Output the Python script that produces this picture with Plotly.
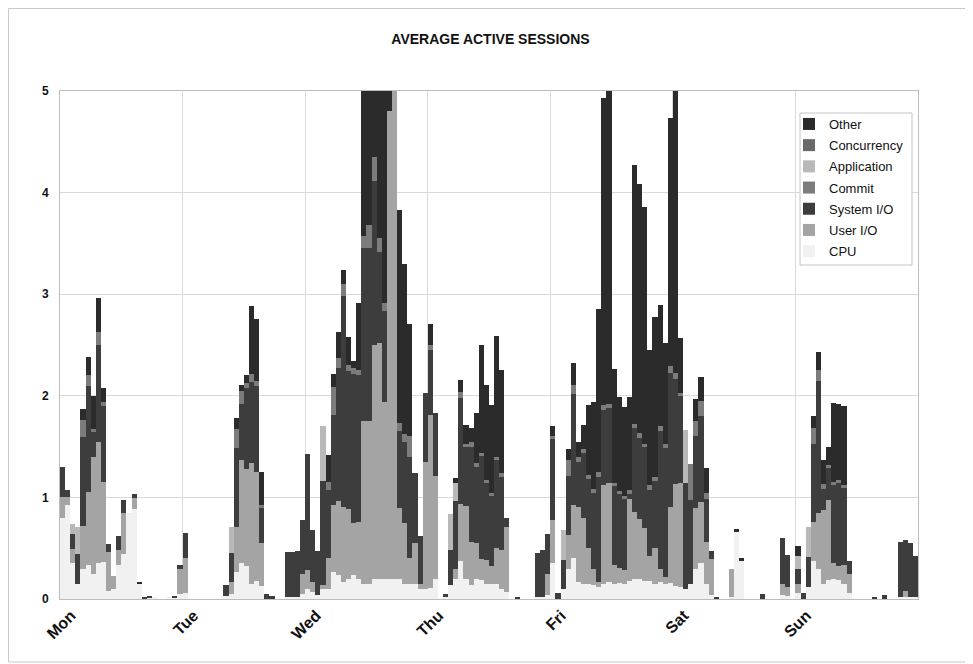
import plotly.graph_objects as go

# hourly buckets, Mon 00:00 .. Sun 23:00 (24 per day)
DAYS = ["Mon", "Tue", "Wed", "Thu", "Fri", "Sat", "Sun"]

CPU = [
    0.80, 0.93, 0.35, 0.15, 0.30, 0.33, 0.25, 0.35, 0.36, 0.08, 0.10, 0.33, 0.44, 0.85, 0.89, 0.15, 0, 0.01, 0.01, 0, 0, 0.01, 0.01, 0.05,
    0.06, 0, 0, 0, 0, 0, 0, 0, 0.03, 0.05, 0.27, 0.35, 0.32, 0.15, 0.18, 0.13, 0, 0, 0, 0, 0.02, 0.02, 0.02, 0.05,
    0.10, 0.07, 0.04, 0.10, 0.10, 0.27, 0.24, 0.17, 0.20, 0.24, 0.20, 0.15, 0.15, 0.20, 0.20, 0.20, 0.20, 0.20, 0.20, 0.15, 0.15, 0.15, 0.10, 0.10,
    0.11, 0.20, 0, 0.02, 0.14, 0.20, 0.37, 0.20, 0.14, 0.20, 0.19, 0.15, 0.15, 0.15, 0.10, 0.07, 0, 0, 0, 0, 0, 0.02, 0.02, 0.04,
    0.35, 0, 0.10, 0.30, 0.40, 0.17, 0.15, 0.15, 0.14, 0.12, 0.15, 0.17, 0.15, 0.16, 0.15, 0.18, 0.20, 0.20, 0.18, 0.18, 0.15, 0.17, 0.15, 0.16,
    0.13, 0.12, 0.10, 0.15, 0.30, 0.35, 0.15, 0.04, 0, 0, 0, 0.02, 0.66, 0.37, 0, 0, 0, 0, 0, 0, 0, 0.04, 0.03, 0,
    0.06, 0, 0.12, 0.37, 0.30, 0.15, 0.19, 0.20, 0.19, 0.15, 0.06, 0, 0, 0, 0, 0, 0, 0, 0, 0, 0.02, 0.02, 0.02, 0.02,
]

USER_IO = [
    0.20, 0.07, 0.14, 0, 0.42, 0.72, 1.15, 1.20, 0.79, 0.38, 0.13, 0.15, 0.41, 0, 0.10, 0, 0, 0, 0, 0, 0, 0, 0, 0.25,
    0.34, 0, 0, 0, 0, 0, 0, 0, 0, 0.12, 0.44, 1.02, 0.96, 1.19, 1.07, 0.42, 0, 0, 0, 0, 0, 0, 0, 0.20,
    0.19, 0.10, 0, 0.04, 0.30, 0.66, 0.72, 0.74, 0.69, 0.51, 0.56, 1.60, 1.60, 2.30, 2.32, 1.74, 4.60, 4.90, 0.70, 0.60, 0.25, 0.40, 0.05, 1.25,
    1.70, 1.01, 0, 0, 0, 0.10, 0.57, 0.72, 0.42, 0.35, 0.20, 0.23, 0.17, 0.35, 0.38, 0.64, 0, 0, 0, 0, 0, 0, 0, 0.21,
    0.43, 0, 0, 0.33, 0.53, 0.74, 0.65, 0.35, 0.16, 0.05, 0.97, 0.97, 0.18, 0.15, 0.14, 0.80, 0.66, 0.59, 0.52, 0.24, 0.35, 0.13, 0.07, 0.75,
    1.00, 1.02, 0, 0, 0.60, 0.60, 0.41, 0.35, 0, 0, 0, 0.28, 0, 0, 0, 0, 0, 0, 0, 0, 0, 0.11, 0.09, 0,
    0.09, 0, 0, 0.39, 0.55, 0.73, 0.78, 0.15, 0.13, 0.18, 0.19, 0, 0, 0, 0, 0, 0, 0, 0, 0, 0, 0.06, 0, 0,
]

SYSTEM_IO = [
    0.30, 0.07, 0.15, 0.29, 0.87, 1.05, 0.24, 0.95, 0.75, 0.08, 0, 0.14, 0.12, 0, 0.04, 0, 0.02, 0.02, 0, 0, 0, 0, 0.01, 0.03,
    0.25, 0, 0, 0, 0, 0, 0, 0, 0.11, 0.28, 0.78, 0.55, 0.80, 0.80, 0.85, 0.35, 0.05, 0.03, 0, 0, 0.44, 0.44, 0.45, 0.53,
    1.14, 0.51, 0.43, 1.02, 0.67, 0.88, 1.31, 2.07, 1.35, 1.46, 1.44, 1.70, 1.70, 1.61, 0.90, 0.89, 0, 0, 0.75, 0.80, 1.00, 0.69, 0.47, 0.68,
    0.64, 0.62, 0, 0.03, 0.34, 0.66, 1.04, 0.58, 0.94, 0.75, 1.02, 0.76, 0.69, 0.87, 0.72, 0.09, 0, 0.02, 0, 0, 0, 0.43, 0.46, 0.39,
    0.79, 0.06, 0.28, 0.58, 1.09, 0.44, 0.64, 0.68, 0.74, 1.03, 0.74, 0.74, 0.78, 0.72, 0.69, 0.05, 0.82, 0.79, 0.80, 0.65, 0.66, 1.35, 1.27, 1.31,
    1.04, 0.86, 1.04, 0.82, 0.70, 0.85, 0.42, 0.08, 0.02, 0, 0, 0, 0, 0, 0, 0, 0, 0.05, 0, 0, 0, 0.45, 0.31, 0,
    0.15, 0.06, 0.29, 0.77, 1.30, 0.20, 0.32, 0.77, 0.82, 0.76, 0.12, 0, 0, 0, 0, 0.02, 0, 0.04, 0, 0, 0.54, 0.50, 0.53, 0.40,
]

COMMIT = [
    0, 0, 0, 0, 0.17, 0.10, 0.03, 0.13, 0.04, 0, 0, 0, 0, 0, 0, 0, 0, 0, 0, 0, 0, 0, 0, 0,
    0, 0, 0, 0, 0, 0, 0, 0, 0, 0, 0.18, 0.13, 0.05, 0.07, 0.05, 0.03, 0, 0, 0, 0, 0, 0, 0, 0,
    0, 0, 0, 0, 0.08, 0.28, 0.10, 0.12, 0.06, 0.06, 0.05, 0.12, 0.23, 0.24, 0.13, 0.08, 0, 0, 0.08, 0.07, 0.20, 0, 0, 0,
    0.05, 0, 0, 0, 0, 0, 0.06, 0.03, 0.05, 0.04, 0.03, 0.03, 0.03, 0.03, 0.04, 0, 0, 0, 0, 0, 0, 0, 0, 0,
    0.03, 0, 0, 0.16, 0.09, 0.05, 0.04, 0.04, 0.04, 0.05, 0.05, 0.04, 0.03, 0.03, 0.03, 0.04, 0.04, 0.05, 0.03, 0.05, 0.04, 0.05, 0.04, 0.07,
    0.05, 0.03, 0, 0.36, 0.15, 0.15, 0.06, 0, 0, 0, 0, 0, 0, 0, 0, 0, 0, 0, 0, 0, 0, 0, 0, 0,
    0, 0, 0, 0.15, 0.10, 0.05, 0.03, 0.03, 0.03, 0.03, 0, 0, 0, 0, 0, 0, 0, 0, 0, 0, 0, 0, 0, 0,
]

APPLICATION = [
    0, 0, 0.10, 0.27, 0, 0, 0, 0, 0, 0, 0, 0, 0, 0, 0, 0, 0, 0, 0, 0, 0, 0, 0, 0,
    0, 0, 0, 0, 0, 0, 0, 0, 0, 0.26, 0, 0, 0, 0, 0, 0, 0, 0, 0, 0, 0, 0, 0, 0,
    0, 0, 0, 0.54, 0, 0, 0, 0, 0, 0, 0, 0, 0, 0, 0, 0, 0, 0, 0, 0, 0, 0, 0, 0,
    0, 0, 0, 0, 0.36, 0.18, 0, 0, 0, 0, 0, 0, 0, 0, 0, 0, 0, 0, 0, 0, 0, 0, 0, 0,
    0, 0, 0.30, 0, 0, 0, 0, 0, 0, 0, 0, 0, 0, 0, 0, 0, 0, 0, 0, 0, 0, 0, 0, 0,
    0, 0, 0.52, 0, 0, 0, 0, 0, 0, 0, 0, 0, 0, 0, 0, 0, 0, 0, 0, 0, 0, 0, 0, 0,
    0.12, 0, 0.30, 0, 0, 0, 0, 0, 0, 0, 0, 0, 0, 0, 0, 0, 0, 0, 0, 0, 0, 0, 0, 0,
]

CONCURRENCY = [
    0, 0, 0, 0, 0, 0, 0, 0, 0, 0, 0, 0, 0, 0, 0, 0, 0, 0, 0, 0, 0, 0, 0, 0,
    0, 0, 0, 0, 0, 0, 0, 0, 0, 0, 0, 0, 0, 0, 0, 0, 0, 0, 0, 0, 0, 0, 0, 0,
    0, 0, 0, 0, 0, 0, 0, 0, 0, 0, 0, 0, 0, 0, 0, 0, 0, 0, 0, 0, 0, 0, 0, 0,
    0, 0, 0, 0, 0, 0, 0, 0, 0, 0, 0, 0, 0, 0, 0, 0, 0, 0, 0, 0, 0, 0, 0, 0,
    0, 0, 0, 0, 0, 0, 0, 0, 0, 0, 0, 0, 0, 0, 0, 0, 0, 0, 0, 0, 0, 0, 0, 0,
    0, 0, 0, 0, 0, 0, 0, 0, 0, 0, 0, 0, 0, 0, 0, 0, 0, 0, 0, 0, 0, 0, 0, 0,
    0, 0, 0, 0, 0, 0, 0, 0, 0, 0, 0, 0, 0, 0, 0, 0, 0, 0, 0, 0, 0, 0, 0, 0,
]

OTHER = [
    0, 0, 0, 0, 0.11, 0.18, 0.33, 0.33, 0.14, 0, 0, 0, 0, 0, 0, 0.02, 0, 0, 0, 0, 0, 0, 0, 0,
    0, 0, 0, 0, 0, 0, 0, 0, 0, 0, 0.11, 0.06, 0.07, 0.67, 0.61, 0.32, 0, 0, 0, 0, 0, 0, 0, 0,
    0, 0, 0, 0, 0.27, 0.12, 0.26, 0.14, 0.28, 0.07, 0.66, 1.70, 1.50, 0.90, 1.60, 2.30, 0.30, 0, 2.10, 1.68, 1.11, 0, 0, 0,
    0.21, 0, 0, 0, 0, 0.05, 0.12, 0.18, 0.13, 0.49, 1.06, 0.94, 0.87, 1.19, 1.01, 0, 0, 0, 0, 0, 0, 0, 0, 0,
    0.10, 0, 0, 0.11, 0.21, 0.15, 0.23, 0.69, 0.86, 1.60, 3.02, 3.11, 1.12, 0.93, 0.88, 0.92, 2.55, 2.45, 2.33, 1.33, 1.58, 1.19, 0.99, 2.44,
    2.81, 0.54, 0, 0, 0.22, 0.24, 0.25, 0, 0, 0, 0, 0, 0.03, 0.03, 0, 0, 0, 0, 0, 0, 0, 0, 0, 0,
    0.10, 0, 0, 0.12, 0.18, 0.24, 0.18, 0.78, 0.75, 0.78, 0, 0, 0, 0, 0, 0, 0, 0, 0, 0, 0, 0, 0, 0,
]

# stacking order, bottom to top
SERIES = [
    ("CPU", CPU, "#f1f1f1"),
    ("User I/O", USER_IO, "#a4a4a4"),
    ("System I/O", SYSTEM_IO, "#3d3d3d"),
    ("Commit", COMMIT, "#7c7c7c"),
    ("Application", APPLICATION, "#b9b9b9"),
    ("Concurrency", CONCURRENCY, "#6a6a6a"),
    ("Other", OTHER, "#2b2b2b"),
]

FONT = "Liberation Sans, Arial, sans-serif"

# the page body adds an 8px margin, so the figure is drawn 8px smaller
# and the left/top margins are trimmed to keep the plot area in place
W, H = 965, 656
ML, MR, MT, MB = 52, 55, 83, 65
PW, PH = W - ML - MR, H - MT - MB


def px(fx):
    # figure x pixel -> paper coordinate
    return (fx - ML) / PW


def py(fy):
    # figure y pixel -> paper coordinate
    return (H - MB - fy) / PH


hours = [h + 0.5 for h in range(len(CPU))]

fig = go.Figure()

for rank, (name, values, color) in enumerate(SERIES):
    fig.add_trace(
        go.Bar(
            x=hours,
            y=values,
            name=name,
            legendgroup=name,
            # top of the stack first in the legend
            legendrank=len(SERIES) - rank,
            width=1.0,
            marker=dict(color=color, line=dict(width=0)),
        )
    )

fig.update_layout(
    width=W,
    height=H,
    barmode="stack",
    bargap=0,
    paper_bgcolor="white",
    plot_bgcolor="white",
    margin=dict(l=ML, r=MR, t=MT, b=MB, autoexpand=False),
    font=dict(family=FONT, color="#111111"),
    title=dict(
        text="AVERAGE ACTIVE SESSIONS",
        x=0.5,
        xref="container",
        y=1 - 31 / H,
        yanchor="middle",
        font=dict(family=FONT, size=14, color="#111111", weight="bold"),
    ),
    legend=dict(
        x=px(781),
        y=py(101),
        xanchor="left",
        yanchor="top",
        traceorder="grouped",
        tracegroupgap=1.3,
        itemwidth=30,
        bgcolor="rgba(0,0,0,0)",
        borderwidth=0,
        font=dict(family=FONT, size=13, color="#111111"),
    ),
    showlegend=True,
)

fig.update_xaxes(
    range=[0, len(CPU)],
    tickvals=[d * 24 for d in range(len(DAYS))],
    ticktext=DAYS,
    tickangle=-45,
    ticklabelshift=11,
    tickfont=dict(family=FONT, size=16, color="#111111", weight="bold"),
    showgrid=True,
    gridcolor="#dadada",
    gridwidth=1,
    showline=True,
    linecolor="#bdbdbd",
    linewidth=1,
    mirror=True,
    ticks="",
    zeroline=False,
)

fig.update_yaxes(
    range=[0, 5],
    dtick=1,
    tickfont=dict(family=FONT, size=12, color="#111111", weight="bold"),
    showgrid=True,
    gridcolor="#dadada",
    gridwidth=1,
    showline=True,
    linecolor="#bdbdbd",
    linewidth=1,
    mirror=True,
    ticks="",
    ticklabelstandoff=8,
    zeroline=False,
)

# legend box (white, hides the grid behind it)
fig.add_shape(
    type="rect",
    xref="paper",
    yref="paper",
    x0=px(792),
    x1=px(904),
    y0=py(257),
    y1=py(105),
    line=dict(color="#c4c4c4", width=1),
    fillcolor="white",
    layer="above",
)

# thin frame round the whole chart
fig.add_shape(
    type="rect",
    xref="paper",
    yref="paper",
    x0=px(0.5),
    x1=px(957.5),
    y0=py(654),
    y1=py(0.5),
    line=dict(color="#c8c8c8", width=1),
    fillcolor="rgba(0,0,0,0)",
    layer="below",
)

fig.write_html("out.html")
